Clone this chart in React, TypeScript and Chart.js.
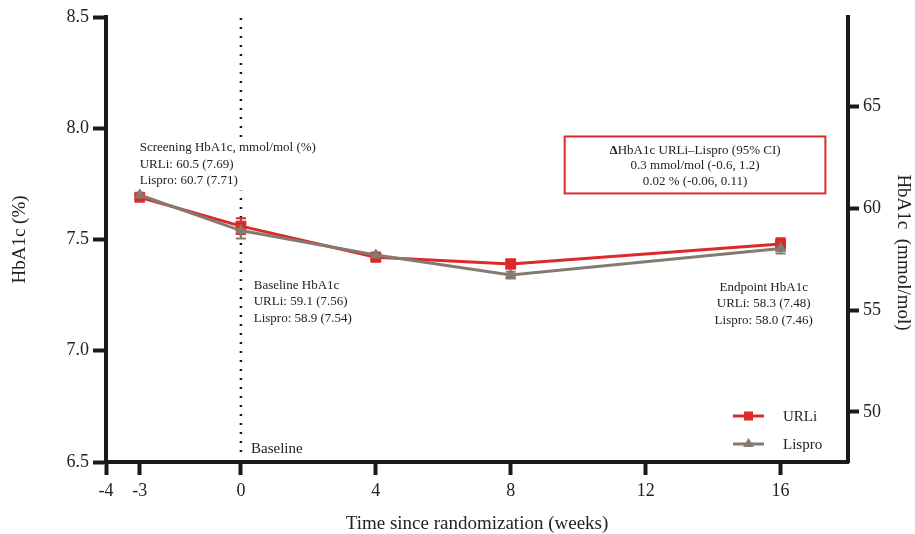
import React, { useEffect, useRef } from 'react';
import { Chart, registerables } from 'chart.js';

Chart.register(...registerables);

// ---- data ----
const weeks = [-3, 0, 4, 8, 16];
const urliPct = [7.69, 7.56, 7.42, 7.39, 7.48];
const urliErr = [0, 0.035, 0.012, 0.02, 0.026];
const lisproPct = [7.7, 7.54, 7.43, 7.34, 7.46];
const lisproErr = [0, 0.036, 0.012, 0.015, 0.023];

const xTicks = [-4, -3, 0, 4, 8, 12, 16];
const leftTicks = [6.5, 7.0, 7.5, 8.0, 8.5];
const rightTicks = [50, 55, 60, 65];

const screeningLines = ['Screening HbA1c, mmol/mol (%)', 'URLi: 60.5 (7.69)', 'Lispro: 60.7 (7.71)'];
const baselineLines = ['Baseline HbA1c', 'URLi: 59.1 (7.56)', 'Lispro: 58.9 (7.54)'];
const endpointLines = ['Endpoint HbA1c', 'URLi: 58.3 (7.48)', 'Lispro: 58.0 (7.46)'];
const diffLines = ['HbA1c URLi\u2013Lispro (95% CI)', '0.3 mmol/mol (-0.6, 1.2)', '0.02 % (-0.06, 0.11)'];
const seriesNames = ['URLi', 'Lispro'];

const pctToMmol = (p: number) => (p - 2.15) * 10.929;

const RED = '#dc2a2a';
const GREY = '#847a6f';
const INK = '#1a1a1a';
const FONT = "'Liberation Serif', 'Times New Roman', serif";

const annotPlugin = {
  id: 'annot',
  beforeDatasetsDraw(chart: any) {
    const { ctx, scales, chartArea } = chart;
    const x = scales.x;
    const y = scales.y;
    ctx.save();
    // dotted baseline line
    const x0 = x.getPixelForValue(0);
    ctx.strokeStyle = INK;
    ctx.lineWidth = 2.5;
    ctx.setLineDash([2, 7]);
    ctx.beginPath();
    ctx.moveTo(x0, chartArea.top + 1);
    ctx.lineTo(x0, chartArea.bottom - 6);
    ctx.stroke();
    ctx.setLineDash([]);

    // white background behind screening text
    const sx = x.getPixelForValue(-3);
    const sy = y.getPixelForValue(7.913);
    ctx.font = `13px ${FONT}`;
    const sw = Math.max(...screeningLines.map((l) => ctx.measureText(l).width));
    ctx.fillStyle = '#fff';
    ctx.fillRect(sx - 1, sy - 10, sw + 4, 16.5 * 2 + 20);

    // error bars
    const drawErr = (vals: number[], errs: number[], color: string) => {
      ctx.strokeStyle = color;
      ctx.lineWidth = 2;
      weeks.forEach((w, i) => {
        if (!errs[i]) return;
        const px = x.getPixelForValue(w);
        const top = y.getPixelForValue(vals[i] + errs[i]);
        const bot = y.getPixelForValue(vals[i] - errs[i]);
        ctx.beginPath();
        ctx.moveTo(px, top);
        ctx.lineTo(px, bot);
        ctx.moveTo(px - 5, top);
        ctx.lineTo(px + 5, top);
        ctx.moveTo(px - 5, bot);
        ctx.lineTo(px + 5, bot);
        ctx.stroke();
      });
    };
    drawErr(urliPct, urliErr, RED);
    drawErr(lisproPct, lisproErr, GREY);
    ctx.restore();
  },
  afterDatasetsDraw(chart: any) {
    const { ctx, scales, chartArea } = chart;
    const x = scales.x;
    const y = scales.y;
    ctx.save();
    ctx.fillStyle = '#222';
    ctx.textBaseline = 'middle';
    ctx.font = `13px ${FONT}`;
    const lh = 16.5;

    // screening
    ctx.textAlign = 'left';
    const sx = x.getPixelForValue(-3);
    const sy = y.getPixelForValue(7.913);
    screeningLines.forEach((l, i) => ctx.fillText(l, sx, sy + i * lh));

    // baseline
    const bx = x.getPixelForValue(0.38);
    const by = y.getPixelForValue(7.293);
    baselineLines.forEach((l, i) => ctx.fillText(l, bx, by + i * lh));

    // endpoint
    ctx.textAlign = 'center';
    const ex = x.getPixelForValue(15.5);
    const ey = y.getPixelForValue(7.286);
    endpointLines.forEach((l, i) => ctx.fillText(l, ex, ey + i * lh));

    // diff box
    const bl = x.getPixelForValue(9.6);
    const br = x.getPixelForValue(17.33);
    const bt = y.getPixelForValue(7.963);
    const bb = y.getPixelForValue(7.707);
    ctx.strokeStyle = RED;
    ctx.lineWidth = 2;
    ctx.strokeRect(bl, bt, br - bl, bb - bt);
    const cx = (bl + br) / 2;
    const cy = bt + 14;
    ctx.font = `bold 13px ${FONT}`;
    const dw = ctx.measureText('\u0394').width;
    ctx.font = `13px ${FONT}`;
    const rw = ctx.measureText(diffLines[0]).width;
    const startX = cx - (dw + rw) / 2;
    ctx.textAlign = 'left';
    ctx.font = `bold 13px ${FONT}`;
    ctx.fillText('\u0394', startX, cy);
    ctx.font = `13px ${FONT}`;
    ctx.fillText(diffLines[0], startX + dw, cy);
    ctx.textAlign = 'center';
    ctx.fillText(diffLines[1], cx, cy + 15.5);
    ctx.fillText(diffLines[2], cx, cy + 31);

    // "Baseline" label at the bottom
    ctx.textAlign = 'left';
    ctx.font = `15px ${FONT}`;
    ctx.fillText('Baseline', x.getPixelForValue(0.3), y.getPixelForValue(6.56));

    // legend
    const items = [
      { name: seriesNames[0], color: RED, shape: 'rect', yy: chartArea.bottom - 46 },
      { name: seriesNames[1], color: GREY, shape: 'tri', yy: chartArea.bottom - 18 },
    ];
    const lx0 = chartArea.right - 115;
    const lx1 = chartArea.right - 84;
    const mx = (lx0 + lx1) / 2;
    items.forEach((it) => {
      ctx.strokeStyle = it.color;
      ctx.fillStyle = it.color;
      ctx.lineWidth = 3;
      ctx.beginPath();
      ctx.moveTo(lx0, it.yy);
      ctx.lineTo(lx1, it.yy);
      ctx.stroke();
      ctx.beginPath();
      if (it.shape === 'rect') {
        ctx.rect(mx - 4.5, it.yy - 4.5, 9, 9);
      } else {
        ctx.moveTo(mx, it.yy - 6);
        ctx.lineTo(mx + 5.5, it.yy + 3);
        ctx.lineTo(mx - 5.5, it.yy + 3);
        ctx.closePath();
      }
      ctx.fill();
      ctx.fillStyle = '#222';
      ctx.font = `15px ${FONT}`;
      ctx.textAlign = 'left';
      ctx.fillText(it.name, chartArea.right - 65, it.yy + 1);
    });

    // right axis title
    ctx.save();
    ctx.translate(903, (chartArea.top + chartArea.bottom) / 2 + 13);
    ctx.rotate(Math.PI / 2);
    ctx.textAlign = 'center';
    ctx.font = `19px ${FONT}`;
    ctx.fillStyle = '#222';
    ctx.fillText('HbA1c  (mmol/mol)', 0, 0);
    ctx.restore();

    ctx.restore();
  },
};

export default function App() {
  const ref = useRef<HTMLCanvasElement | null>(null);

  useEffect(() => {
    if (!ref.current) return;
    Chart.defaults.font.family = FONT;
    const axisBorder = { display: true, width: 4, color: INK };
    const grid = (len: number) => ({
      display: true,
      drawOnChartArea: false,
      drawTicks: true,
      tickLength: len,
      tickWidth: 4,
      tickColor: INK,
    });
    const chart = new Chart(ref.current, {
      type: 'line',
      data: {
        datasets: [
          {
            label: seriesNames[1],
            data: weeks.map((w, i) => ({ x: w, y: lisproPct[i] })),
            borderColor: GREY,
            backgroundColor: GREY,
            borderWidth: 3,
            pointStyle: 'triangle',
            pointRadius: 6,
            pointBorderWidth: 1,
            pointBorderColor: GREY,
            tension: 0,
            yAxisID: 'y',
          },
          {
            label: seriesNames[0],
            data: weeks.map((w, i) => ({ x: w, y: urliPct[i] })),
            borderColor: RED,
            backgroundColor: RED,
            borderWidth: 3,
            pointStyle: 'rect',
            pointRadius: 7,
            pointBorderWidth: 1,
            pointBorderColor: RED,
            tension: 0,
            yAxisID: 'y',
          },
        ],
      },
      options: {
        responsive: false,
        animation: false,
        devicePixelRatio: 1,
        layout: { padding: { top: 17, left: 0, right: 0, bottom: 0 } },
        plugins: { legend: { display: false }, tooltip: { enabled: false } },
        scales: {
          x: {
            type: 'linear',
            min: -4,
            max: 18,
            afterBuildTicks: (s: any) => {
              s.ticks = xTicks.map((v) => ({ value: v }));
            },
            afterFit: (s: any) => {
              s.height = 72;
            },
            border: axisBorder,
            grid: grid(13),
            ticks: {
              font: { size: 18 },
              color: '#222',
              padding: 5,
              maxRotation: 0,
              autoSkip: false,
              callback: (v: any) => String(v),
            },
            title: {
              display: true,
              text: 'Time since randomization (weeks)',
              font: { size: 19, lineHeight: 1 },
              color: '#222',
              padding: { top: 0, bottom: 0 },
            },
          },
          y: {
            type: 'linear',
            position: 'left',
            min: 6.5,
            max: 8.5,
            afterBuildTicks: (s: any) => {
              s.ticks = leftTicks.map((v) => ({ value: v }));
            },
            afterFit: (s: any) => {
              s.width = 106;
            },
            border: axisBorder,
            grid: grid(13),
            ticks: {
              font: { size: 18 },
              color: '#222',
              padding: 4,
              callback: (v: any) => Number(v).toFixed(1),
            },
            title: {
              display: true,
              text: 'HbA1c (%)',
              font: { size: 19, lineHeight: 1 },
              color: '#222',
              padding: { top: 11, bottom: 0 },
            },
          },
          y2: {
            type: 'linear',
            position: 'right',
            min: pctToMmol(6.5),
            max: pctToMmol(8.5),
            afterBuildTicks: (s: any) => {
              s.ticks = rightTicks.map((v) => ({ value: v }));
            },
            afterFit: (s: any) => {
              s.width = 67;
            },
            border: axisBorder,
            grid: grid(11),
            ticks: {
              font: { size: 18 },
              color: '#222',
              padding: 4,
              callback: (v: any) => String(v),
            },
          },
        },
      } as any,
      plugins: [annotPlugin],
    });
    return () => chart.destroy();
  }, []);

  return (
    <div style={{ position: 'absolute', left: 0, top: 0, width: 915, height: 534, background: '#fff' }}>
      <canvas ref={ref} width={915} height={534} style={{ display: 'block' }} />
    </div>
  );
}
